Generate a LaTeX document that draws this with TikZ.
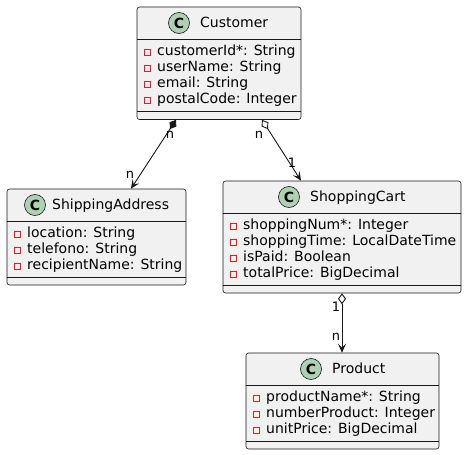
\documentclass[tikz,border=0pt]{standalone}
\usepackage{fontspec}
\setmainfont{DejaVu Sans}
\usepackage{xcolor}
\usepackage{tikz}
\usetikzlibrary{arrows.meta}

\definecolor{umlfill}{HTML}{F1F1F1}
\definecolor{umlline}{HTML}{181818}
\definecolor{umlcircle}{HTML}{ADD1B2}
\definecolor{umlpriv}{HTML}{C82930}

\begin{document}
\begin{tikzpicture}[x=1pt, y=-1pt,
  classbox/.style={draw=umlline, fill=umlfill, line width=0.6pt,
    rounded corners=2.5pt, inner sep=0pt},
  cicon/.style={circle, draw=umlline, fill=umlcircle, line width=0.6pt,
    minimum size=21pt, inner sep=0pt,
    font=\fontsize{14pt}{16pt}\selectfont\bfseries},
  cname/.style={anchor=west, inner sep=0pt, text height=10pt, text depth=3pt,
    font=\fontsize{14pt}{16pt}\selectfont},
  privicon/.style={draw=umlpriv, line width=0.6pt, minimum size=6pt,
    inner sep=0pt},
  attrtext/.style={cname, label={[privicon, label distance=6pt]left:{}}},
  sepline/.style={draw=umlline, line width=0.6pt},
  mult/.style={inner sep=0pt, font=\fontsize{13pt}{15pt}\selectfont},
  link/.style={draw=umlline, line width=0.9pt}]
  \useasboundingbox (0,0) rectangle (467,455);

  % ---- Customer ----
  \node[classbox, minimum width=164pt, minimum height=112.5pt] (cust) at (219,63.25) {};
  \node[cicon] (custc) at (179,23) {C};
  \node[cname] (custn) at (200,24) {Customer};
  \draw[sepline] (137,39) -- (301,39);
  \node[attrtext] (cust1) at (157,52) {customerId*: String};
  \node[attrtext] (cust2) at (157,68) {userName: String};
  \node[attrtext] (cust3) at (157,84) {email: String};
  \node[attrtext] (cust4) at (157,100) {postalCode: Integer};
  \draw[sepline] (137,111.5) -- (301,111.5);

  % ---- ShippingAddress ----
  \node[classbox, minimum width=179pt, minimum height=96pt] (ship) at (96.5,237) {};
  \node[cicon] (shipc) at (35,205) {C};
  \node[cname] (shipn) at (52,206) {ShippingAddress};
  \draw[sepline] (7,221) -- (186,221);
  \node[attrtext] (ship1) at (27,234) {location: String};
  \node[attrtext] (ship2) at (27,250) {telefono: String};
  \node[attrtext] (ship3) at (27,266) {recipientName: String};
  \draw[sepline] (7,277.5) -- (186,277.5);

  % ---- ShoppingCart ----
  \node[classbox, minimum width=238pt, minimum height=112pt] (cart) at (342,237) {};
  \node[cicon] (cartc) at (289,197) {C};
  \node[cname] (cartn) at (310,198) {ShoppingCart};
  \draw[sepline] (223,213) -- (461,213);
  \node[attrtext] (cart1) at (243,226) {shoppingNum*: Integer};
  \node[attrtext] (cart2) at (243,242) {shoppingTime: LocalDateTime};
  \node[attrtext] (cart3) at (243,258) {isPaid: Boolean};
  \node[attrtext] (cart4) at (243,274) {totalPrice: BigDecimal};
  \draw[sepline] (223,285.5) -- (461,285.5);

  % ---- Product ----
  \node[classbox, minimum width=193pt, minimum height=96pt] (prod) at (342.5,401) {};
  \node[cicon] (prodc) at (311,369) {C};
  \node[cname] (prodn) at (332,370) {Product};
  \draw[sepline] (246,385) -- (439,385);
  \node[attrtext] (prod1) at (266,398) {productName*: String};
  \node[attrtext] (prod2) at (266,414) {numberProduct: Integer};
  \node[attrtext] (prod3) at (266,430) {unitPrice: BigDecimal};
  \draw[sepline] (246,441.5) -- (439,441.5);

  % ---- associations ----
  \draw[link, {Diamond[length=11pt,width=8pt]}-{Stealth[length=9pt,width=8pt,inset=4pt]}]
    ([xshift=-43pt]cust.south) -- ([xshift=34.5pt]ship.north);
  \node[mult] (m1a) at (170,135) {n};
  \node[mult] (m1b) at (130,175) {n};

  \draw[link, {Diamond[open,length=11pt,width=8pt]}-{Stealth[length=9pt,width=8pt,inset=4pt]}]
    ([xshift=43pt]cust.south) -- ([xshift=-41pt]cart.north);
  \node[mult] (m2a) at (259,135) {n};
  \node[mult] (m2b) at (292,163) {1};

  \draw[link, {Diamond[open,length=11pt,width=8pt]}-{Stealth[length=9pt,width=8pt,inset=4pt]}]
    (cart.south) -- (cart.south |- prod.north);
  \node[mult] (m3a) at (336,307) {1};
  \node[mult] (m3b) at (336,337) {n};
\end{tikzpicture}
\end{document}
